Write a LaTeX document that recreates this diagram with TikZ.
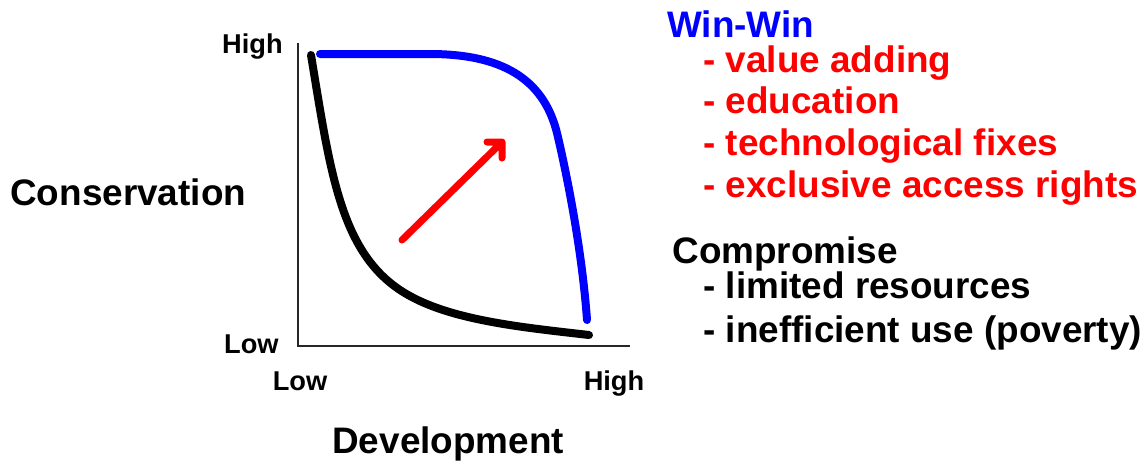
\documentclass[tikz,border=0pt]{standalone}
\usepackage{fontspec}
\setmainfont{Liberation Sans}
\usetikzlibrary{positioning}
\definecolor{winblue}{RGB}{0,0,255}
\definecolor{winred}{RGB}{255,0,0}
\tikzset{
  lbl/.style = {inner sep=0pt, font=\bfseries\fontsize{21}{25}\selectfont},
  ticklbl/.style = {inner sep=0pt, font=\bfseries\fontsize{15.5}{18}\selectfont},
  item/.style = {lbl, anchor=base west},% list line
  curve/.style = {line width=0.16cm, line cap=round, line join=round},
  ax/.style = {line width=0.03cm, black!85}
}

\begin{document}
\begin{tikzpicture}[x=0.02cm, y=-0.02cm]
\useasboundingbox (0,0) rectangle (1145,461);
% axes
\coordinate (ytop) at (298,43);
\coordinate (orig) at (298,346);
\coordinate (xend) at (630,346);
\draw[ax] (ytop) -- (orig) -- (xend);
\node [ticklbl, anchor=base east] (yhigh) at (283,53) {High};
\node [ticklbl, anchor=base east] (ylow) at (279,353) {Low};
\node [ticklbl, anchor=base] (xlow) at (300,390) {Low};
\node [ticklbl, anchor=base] (xhigh) at (614,390) {High};
\node [lbl, anchor=base west] (cons) at (10,205) {Conservation};
\node [lbl, anchor=base west] (dev) at (332,453) {Development};
% trade-off curves
\coordinate (bstart) at (311,55);
\coordinate (bknee) at (400,290);
\coordinate (bend) at (589,335);
\draw[curve, black] (bstart) .. controls (330,170) and (340,250) .. (bknee)
  .. controls (445,320) and (520,327) .. (bend);
\coordinate (wstart) at (320,54);
\coordinate (wflat) at (430,54);
\coordinate (wknee) at (557,133);
\coordinate (wend) at (587,320);
\draw[curve, winblue] (wstart) -- (wflat)
  .. controls (510,54) and (545,85) .. (wknee)
  .. controls (567,175) and (582,250) .. (wend);
% shift arrow
\coordinate (astart) at (402,240);
\coordinate (atip) at (502,142);
\coordinate (abarb1) at (487,142);
\coordinate (abarb2) at (502,158);
\draw[winred, line width=0.14cm, line cap=round, line join=round]
  (astart) -- (atip) (abarb1) -- (atip) -- (abarb2);
% legend
\node [lbl, anchor=base west, text=winblue] (win) at (667,37) {Win-Win};
\node [item, text=winred] (w1) at (703,72) {- value adding};
\node [item, text=winred] (w2) at (703,113) {- education};
\node [item, text=winred] (w3) at (703,155) {- technological fixes};
\node [item, text=winred] (w4) at (703,197) {- exclusive access rights};
\node [lbl, anchor=base west] (comp) at (672,263) {Compromise};
\node [item] (c1) at (703,298) {- limited resources};
\node [item] (c2) at (703,342) {- inefficient use (poverty)};
\end{tikzpicture}
\end{document}
